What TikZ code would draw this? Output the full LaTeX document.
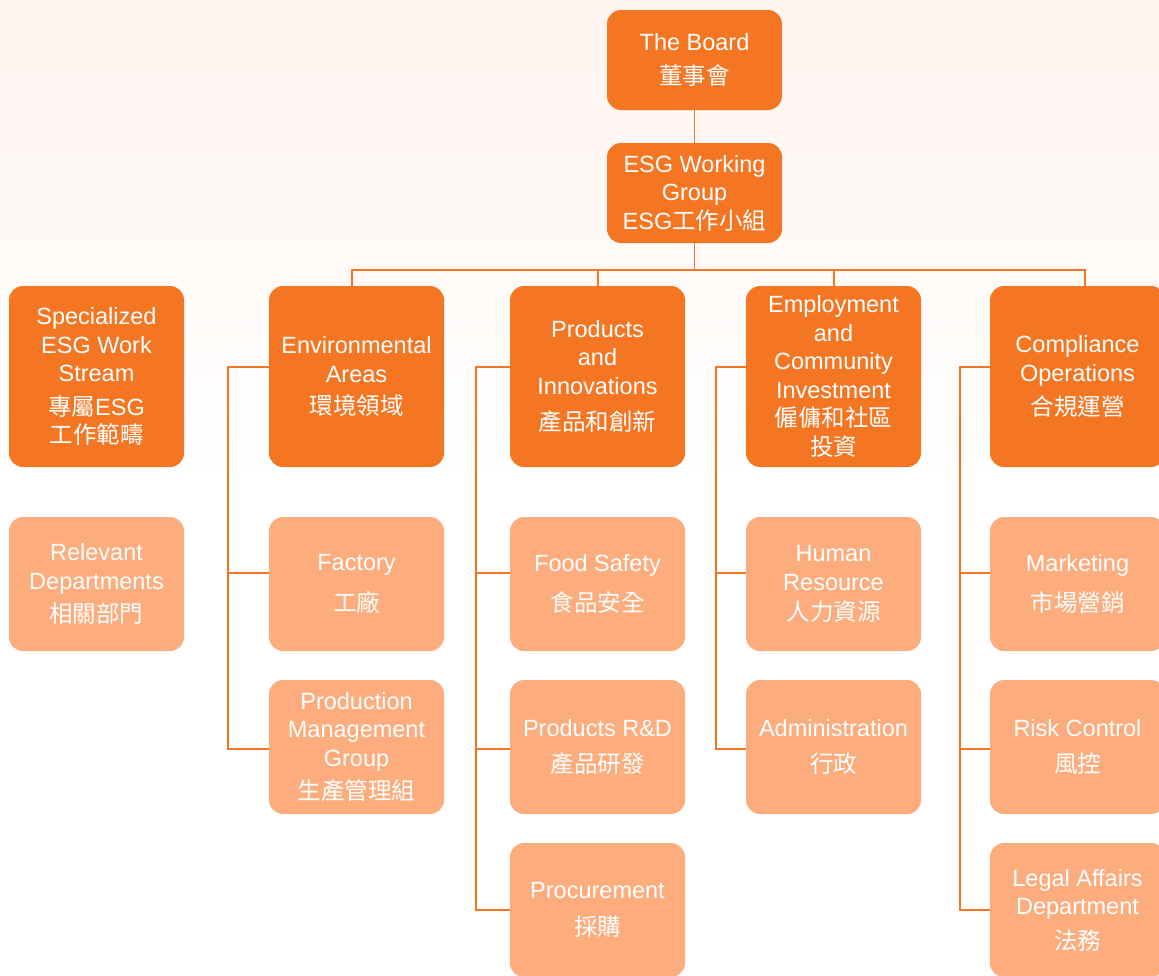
\documentclass[tikz,border=0pt]{standalone}
\usepackage{fontspec}
\setmainfont{Liberation Sans}
\newfontfamily\cjk{Noto Sans CJK TC}
\definecolor{dk}{HTML}{F47623}
\definecolor{lt}{HTML}{FDAD7D}
\definecolor{bgt}{HTML}{FEF4EF}
\begin{document}
\begin{tikzpicture}[x=1pt,y=-1pt,
  box/.style={rounded corners=14pt, minimum width=175pt, text=white, align=center,
    inner sep=0pt, font=\fontsize{23.5}{28.5}\selectfont},
  dkbox/.style={box, fill=dk, minimum height=#1},
  ltbox/.style={box, fill=lt, minimum height=134pt},
  conn/.style={draw=dk, line width=1.5pt}]
\useasboundingbox (0,0) rectangle (1159,975);
\clip (0,0) rectangle (1159,975);
\fill[top color=bgt, bottom color=white, middle color=white] (0,0) rectangle (1159,975);

% top
\node[dkbox=100pt] (board) at (694.5,60) {The Board\\[6pt]{\cjk 董事會}};
\node[dkbox=100pt] (esg) at (694.5,193) {ESG Working\\Group\\ESG{\cjk 工作小組}};

% level 1
\node[dkbox=181pt] (spec) at (96.5,376.5) {Specialized\\ESG Work\\Stream\\[5pt]{\cjk 專屬}ESG\\{\cjk 工作範疇}};
\node[dkbox=181pt] (env) at (356.5,376.5) {Environmental\\Areas\\[4pt]{\cjk 環境領域}};
\node[dkbox=181pt] (prod) at (597.5,376.5) {Products\\and\\Innovations\\[8pt]{\cjk 產品和創新}};
\node[dkbox=181pt] (emp) at (833.5,376.5) {Employment\\and\\Community\\Investment\\{\cjk 僱傭和社區}\\{\cjk 投資}};
\node[dkbox=181pt] (comp) at (1077.5,376.5) {Compliance\\Operations\\[6pt]{\cjk 合規運營}};

% level 2
\node[ltbox] (rel) at (96.5,584) {Relevant\\Departments\\[5pt]{\cjk 相關部門}};
\node[ltbox] (fac) at (356.5,584) {Factory\\[12pt]{\cjk 工廠}};
\node[ltbox] (food) at (597.5,584) {Food Safety\\[12pt]{\cjk 食品安全}};
\node[ltbox] (hr) at (833.5,584) {Human\\Resource\\[2pt]{\cjk 人力資源}};
\node[ltbox] (mkt) at (1077.5,584) {Marketing\\[12pt]{\cjk 市場營銷}};

% level 3
\node[ltbox] (pmg) at (356.5,747) {Production\\Management\\Group\\[5pt]{\cjk 生產管理組}};
\node[ltbox] (rd) at (597.5,747) {Products R\&D\\[8pt]{\cjk 產品研發}};
\node[ltbox] (adm) at (833.5,747) {Administration\\[8pt]{\cjk 行政}};
\node[ltbox] (risk) at (1077.5,747) {Risk Control\\[8pt]{\cjk 風控}};

% level 4
\node[ltbox] (proc) at (597.5,910) {Procurement\\[8pt]{\cjk 採購}};
\node[ltbox] (legal) at (1077.5,910) {Legal Affairs\\Department\\[6pt]{\cjk 法務}};

% connectors
\draw[conn] (board) -- (esg);
\draw[conn] ([xshift=-4.5pt]env.north) -- ++(0,-16) -| (esg.south);
\draw[conn] ([xshift=0.5pt]prod.north) -- ++(0,-16) -| (esg.south);
\draw[conn] ([xshift=0.5pt]emp.north) -- ++(0,-16) -| (esg.south);
\draw[conn] ([xshift=7.5pt]comp.north) -- ++(0,-16) -| (esg.south);

\draw[conn] ([yshift=9.5pt]env.west) -- ++(-41,0) coordinate (te) |- ([yshift=11pt]fac.west);
\draw[conn] (te) |- ([yshift=-2pt]pmg.west);

\draw[conn] ([yshift=9.5pt]prod.west) -- ++(-34,0) coordinate (tp) |- ([yshift=11pt]food.west);
\draw[conn] (tp) |- ([yshift=-2pt]rd.west);
\draw[conn] (tp) |- (proc.west);

\draw[conn] ([yshift=9.5pt]emp.west) -- ++(-30,0) coordinate (tm) |- ([yshift=11pt]hr.west);
\draw[conn] (tm) |- ([yshift=-2pt]adm.west);

\draw[conn] ([yshift=9.5pt]comp.west) -- ++(-30,0) coordinate (tc) |- ([yshift=11pt]mkt.west);
\draw[conn] (tc) |- ([yshift=-2pt]risk.west);
\draw[conn] (tc) |- (legal.west);
\end{tikzpicture}
\end{document}
